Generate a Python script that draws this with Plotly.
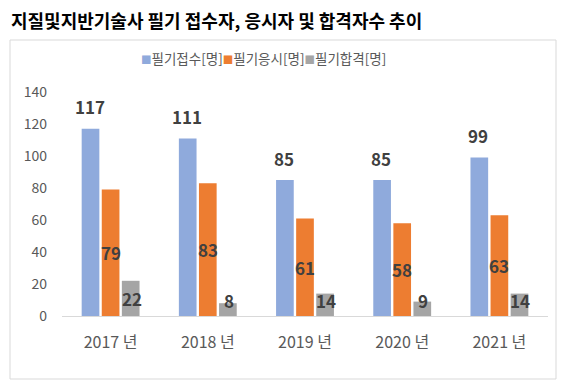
import plotly.graph_objects as go

categories = ["2017 년", "2018 년", "2019 년", "2020 년", "2021 년"]
applied = [117, 111, 85, 85, 99]
attended = [79, 83, 61, 58, 63]
passed = [22, 8, 14, 9, 14]
series_names = ["필기접수[명]", "필기응시[명]", "필기합격[명]"]
colors = ["#8faadc", "#ed7d31", "#a5a5a5"]
title_text = "지질및지반기술사 필기 접수자, 응시자 및 합격자수 추이"

FONT = "Noto Sans CJK KR"
OFF = 8  # page body margin compensation

W, H = 568, 381
PL, PR, PT, PB = 62 - OFF, 548 - OFF, 92 - OFF, 316 - OFF
PW, PH = PR - PL, PB - PT

fig = go.Figure()
for name, vals, col in zip(series_names, [applied, attended, passed], colors):
    fig.add_trace(go.Bar(x=categories, y=vals, name=name, marker_color=col,
                         marker_line_width=0, hoverinfo="skip", showlegend=False))

annotations = []
lab_font = dict(family=FONT, size=17, color="#404040", weight="bold")
for c, v in zip(categories, applied):
    annotations.append(dict(x=c, y=v, xref="x", yref="y", text=str(v), showarrow=False,
                            xshift=-21, yshift=22, yanchor="middle", font=lab_font))
for c, v in zip(categories, attended):
    annotations.append(dict(x=c, y=max(v / 2, 10), xref="x", yref="y", text=str(v), showarrow=False,
                            xshift=0, yanchor="middle", font=lab_font))
for c, v in zip(categories, passed):
    annotations.append(dict(x=c, y=max(v / 2, 10), xref="x", yref="y", text=str(v), showarrow=False,
                            xshift=21, yanchor="middle", font=lab_font))

# compact legend (Excel style): small colored square directly before each name
legend_text = "".join(
    f"<span style='color:{c};font-size:10.5px'>■</span>{n}" for n, c in zip(series_names, colors)
)
annotations.append(dict(x=(263 - OFF - PL) / PW, y=1 + (PT - (58 - OFF)) / PH, xref="paper", yref="paper",
                        text=legend_text, showarrow=False, xanchor="center", yanchor="middle",
                        font=dict(family=FONT, size=13.5, color="#595959")))

fig.update_layout(
    width=W, height=H,
    margin=dict(l=PL, r=W - PR, t=PT, b=H - PB, autoexpand=False),
    paper_bgcolor="white", plot_bgcolor="white",
    barmode="group", bargap=0.38, bargroupgap=0.12,
    font=dict(family=FONT, color="#595959"),
    showlegend=False,
    title=dict(text=title_text, x=(11 - OFF) / W, xanchor="left", xref="container",
               y=1 - (22 - OFF) / H, yanchor="middle", yref="container",
               font=dict(family=FONT, size=18, color="black", weight="bold")),
    annotations=annotations,
    shapes=[dict(type="rect", xref="paper", yref="paper",
                 x0=(10 - OFF - PL) / PW, x1=(556 - OFF - PL) / PW,
                 y0=(PB - (379 - OFF)) / PH, y1=(PB - (40 - OFF)) / PH,
                 line=dict(color="#d9d9d9", width=1), fillcolor="rgba(0,0,0,0)", layer="above")],
)
fig.update_xaxes(showline=True, linecolor="#d9d9d9", linewidth=1, showgrid=False,
                 tickfont=dict(family=FONT, size=16, color="#595959"), ticks="", ticklabelstandoff=12)
fig.update_yaxes(range=[0, 140], dtick=20, showgrid=False, zeroline=False, showline=False,
                 tickfont=dict(family=FONT, size=14, color="#595959"), ticks="", ticklabelstandoff=14)

fig.write_html("out.html")
